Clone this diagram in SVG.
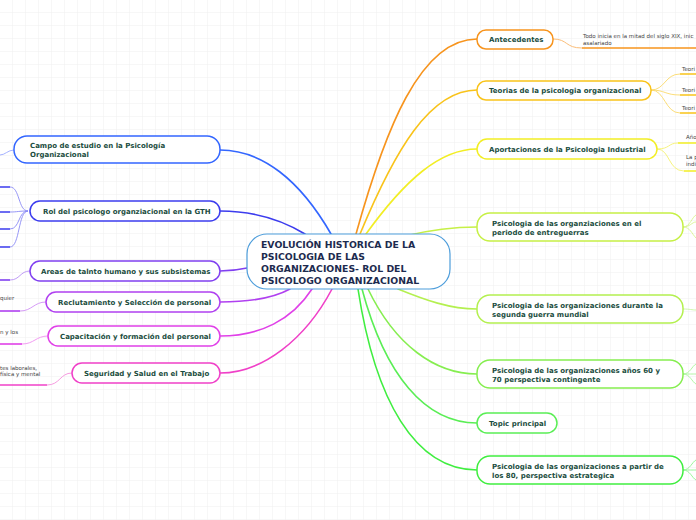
<svg xmlns="http://www.w3.org/2000/svg" width="696" height="520" viewBox="0 0 696 520">
<defs>
<pattern id="grid" width="13" height="13" patternUnits="userSpaceOnUse">
<path d="M13 0V13H0" fill="none" stroke="#efefef" stroke-width="1"/>
</pattern>
<style>
.n{fill:#fff;stroke-width:1.5}
.t{font-family:"DejaVu Sans",Verdana,sans-serif;font-weight:bold;font-size:7px;fill:#1b4d3e}
.c{font-family:"DejaVu Sans",Verdana,sans-serif;font-weight:bold;font-size:9.3px;fill:#1d2b4f}
.s{font-family:"DejaVu Sans",Verdana,sans-serif;font-size:5.5px;fill:#444}
.l{fill:none;stroke-width:1.6;stroke-linecap:round}
.k{fill:none;stroke-width:0.9}
.u{fill:none;stroke-width:1.6}
</style>
</defs>
<rect width="696" height="520" fill="#fff"/>
<rect width="696" height="520" fill="url(#grid)"/>

<g id="connectors">
<path class="l" stroke="#f7941d" d="M356 234C385 130 420 39 477 39"/>
<path class="l" stroke="#f9c31a" d="M360 234C395 150 430 90 477 90"/>
<path class="l" stroke="#f2ee24" d="M366 234C405 180 440 149 477 149"/>
<path class="l" stroke="#c6f046" d="M405 236C430 230 455 227 477 227"/>
<path class="l" stroke="#b4f050" d="M398 289C425 300 450 309 477 309"/>
<path class="l" stroke="#86ee50" d="M368 289C395 345 435 374 477 374"/>
<path class="l" stroke="#5aee55" d="M362 289C385 375 425 423 477 423"/>
<path class="l" stroke="#40ee40" d="M358 289C375 400 415 470 477 470"/>
<path class="l" stroke="#3366ff" d="M331 234C300 180 262 150 220 150"/>
<path class="l" stroke="#3c3cee" d="M305 234C282 220 252 211 220 211"/>
<path class="l" stroke="#8040f0" d="M247 268C238 270 229 271 220 271"/>
<path class="l" stroke="#b040f0" d="M290 289C270 300 245 302 220 302"/>
<path class="l" stroke="#e040e8" d="M312 289C292 320 260 336 220 336"/>
<path class="l" stroke="#f040c8" d="M332 289C305 340 262 373 220 373"/>
<path class="k" stroke="#f9b56a" d="M553 39C568 39 565 48 582 48"/>
<path class="u" stroke="#f7941d" d="M582 48H696"/>
<path class="k" stroke="#fbd96a" d="M651 90C665 90 665 74 680 74M651 90C665 90 665 95 680 95M651 90C665 90 665 113 680 113"/>
<path class="u" stroke="#f9c31a" d="M680 74H696M680 95H696M680 113H696"/>
<path class="k" stroke="#f5f270" d="M657 149C670 149 668 143 678 143M657 149C670 149 668 171 684 171"/>
<path class="u" stroke="#f2ee24" d="M678 143H696M684 171H696"/>
<path class="k" stroke="#d8f590" d="M683 227C690 227 692 217 696 215M683 227C690 227 692 222 696 222M683 227C690 227 692 234 696 238"/>
<path class="k" stroke="#c8f5a0" d="M683 309C690 309 692 310 696 310"/>
<path class="k" stroke="#a8f59a" d="M683 374C690 374 692 366 696 364M683 374C690 374 692 374 696 374M683 374C690 374 692 382 696 384"/>
<path class="k" stroke="#8ff58f" d="M683 470C690 470 692 462 696 460M683 470C690 470 692 470 696 470M683 470C690 470 692 478 696 480"/>
<path class="k" stroke="#9aa8ff" d="M14 150C8 150 5 155 0 155"/>
<path class="k" stroke="#8a8af5" d="M28 211C18 211 20 187 10 187M28 211C18 211 18 212 10 212M28 211C18 211 20 229 10 229M28 211C18 211 20 247 10 247"/>
<path class="u" stroke="#3c3cee" d="M0 187H10M0 212H10M0 229H10M0 247H10"/>
<path class="k" stroke="#b890f5" d="M30 271C20 271 20 280 10 280"/>
<path class="u" stroke="#8040f0" d="M0 280H10"/>
<path class="k" stroke="#d090f5" d="M46 302C34 302 32 311 20 311"/>
<path class="u" stroke="#b040f0" d="M0 311H20"/>
<path class="k" stroke="#f090f0" d="M48 336C36 336 34 344 22 344"/>
<path class="u" stroke="#e040e8" d="M0 344H22"/>
<path class="k" stroke="#f590dc" d="M72 373C60 373 60 385 47 385"/>
<path class="u" stroke="#f040c8" d="M0 385H47"/>
</g>

<g id="center">
<rect x="247" y="234" width="203" height="55" rx="20" fill="#fff" stroke="#4d9ddb" stroke-width="1.2"/>
<text class="c" x="261" y="248">EVOLUCIÓN HISTORICA DE LA</text>
<text class="c" x="261" y="260">PSICOLOGIA DE LAS</text>
<text class="c" x="261" y="272">ORGANIZACIONES- ROL DEL</text>
<text class="c" x="261" y="284">PSICOLOGO ORGANIZACIONAL</text>
</g>

<g id="antecedentes">
<rect class="n" x="477" y="30" width="76" height="19" rx="9" stroke="#f7941d"/>
<text class="t" x="489" y="42">Antecedentes</text>
<text class="s" x="583" y="38">Todo inicia en la mitad del siglo XIX, inic</text>
<text class="s" x="583" y="45">asalariado</text>
</g>
<g id="teorias">
<rect class="n" x="477" y="81" width="174" height="19" rx="9" stroke="#f9c31a"/>
<text class="t" x="489" y="93">Teorias de la psicologia organizacional</text>
<text class="s" x="682" y="71">Teori</text>
<text class="s" x="682" y="92">Teori</text>
<text class="s" x="682" y="110">Teori</text>
</g>
<g id="aportaciones">
<rect class="n" x="477" y="139" width="180" height="20" rx="10" stroke="#f2ee24"/>
<text class="t" x="489" y="152">Aportaciones de la Psicologia Industrial</text>
<text class="s" x="686" y="139">Año</text>
<text class="s" x="686" y="159">La p</text>
<text class="s" x="686" y="166">indi</text>
</g>
<g id="entreguerras">
<rect class="n" x="477" y="213" width="206" height="28" rx="13" stroke="#c6f046"/>
<text class="t" x="492" y="226">Psicologia de las organziaciones en el</text>
<text class="t" x="492" y="235">periodo de entreguerras</text>
</g>
<g id="segunda">
<rect class="n" x="477" y="295" width="206" height="28" rx="13" stroke="#b4f050"/>
<text class="t" x="492" y="308">Psicologia de las organizaciones durante la</text>
<text class="t" x="492" y="317">segunda guerra mundial</text>
</g>
<g id="contingente">
<rect class="n" x="477" y="360" width="206" height="28" rx="13" stroke="#86ee50"/>
<text class="t" x="492" y="373">Psicologia de las organizaciones años 60 y</text>
<text class="t" x="492" y="382">70 perspectiva contingente</text>
</g>
<g id="topic">
<rect class="n" x="477" y="413" width="80" height="20" rx="10" stroke="#5aee55"/>
<text class="t" x="489" y="426">Topic principal</text>
</g>
<g id="estrategica">
<rect class="n" x="477" y="456" width="206" height="28" rx="13" stroke="#40ee40"/>
<text class="t" x="492" y="469">Psicologia de las organizaciones a partir de</text>
<text class="t" x="492" y="478">los 80, perspectiva estrategica</text>
</g>

<g id="campo">
<rect class="n" x="14" y="136" width="206" height="27" rx="13" stroke="#3366ff"/>
<text class="t" x="30" y="148">Campo de estudio en la Psicología</text>
<text class="t" x="30" y="157">Organizacional</text>
</g>
<g id="rol">
<rect class="n" x="30" y="201" width="190" height="20" rx="10" stroke="#3c3cee"/>
<text class="t" x="43" y="214">Rol del psicologo organziacional en la GTH</text>
</g>
<g id="areas">
<rect class="n" x="30" y="261" width="190" height="20" rx="10" stroke="#8040f0"/>
<text class="t" x="41" y="274">Areas de talnto humano y sus subsistemas</text>
</g>
<g id="reclutamiento">
<rect class="n" x="46" y="292" width="174" height="20" rx="10" stroke="#b040f0"/>
<text class="t" x="58" y="305">Reclutamiento y Selección de personal</text>
<text class="s" x="0" y="300">quier</text>
</g>
<g id="capacitacion">
<rect class="n" x="48" y="326" width="172" height="20" rx="10" stroke="#e040e8"/>
<text class="t" x="60" y="339">Capacitación y formación del personal</text>
<text class="s" x="0" y="334">n y los</text>
</g>
<g id="seguridad">
<rect class="n" x="72" y="363" width="148" height="20" rx="10" stroke="#f040c8"/>
<text class="t" x="84" y="376">Seguridad y Salud en el Trabajo</text>
<text class="s" x="0" y="370">tes laborales,</text>
<text class="s" x="0" y="376">física y mental</text>
</g>
</svg>
